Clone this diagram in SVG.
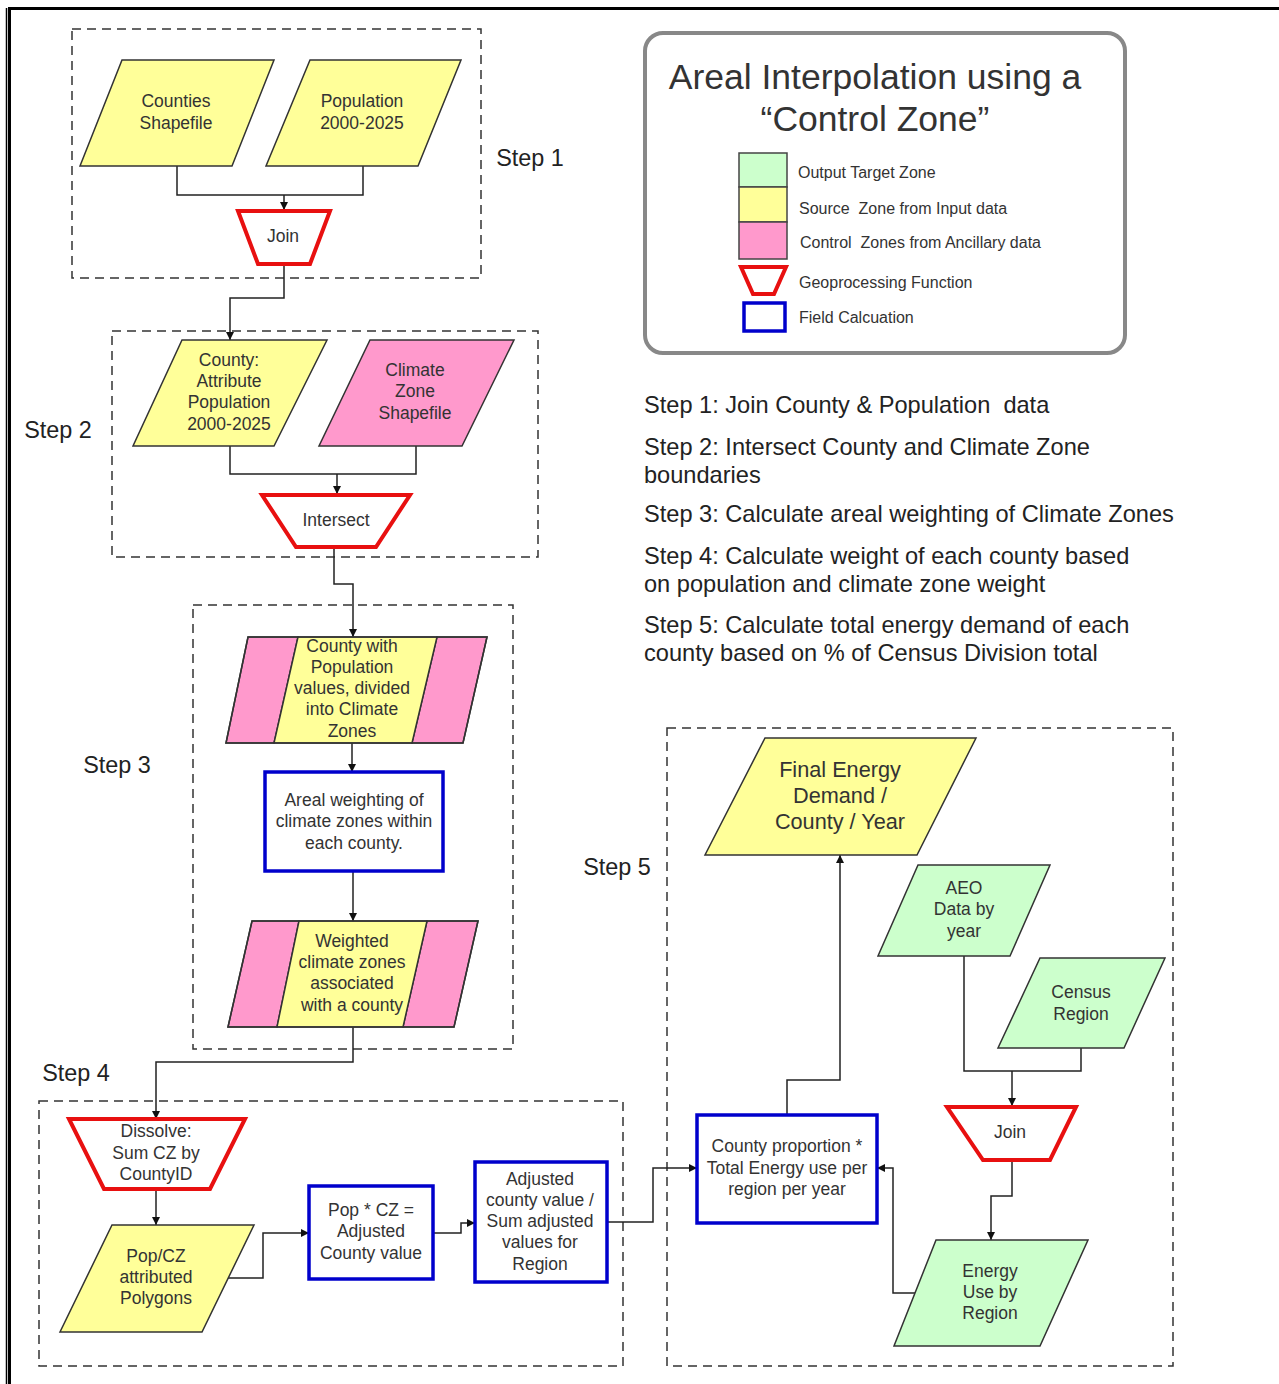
<svg xmlns="http://www.w3.org/2000/svg" width="1279" height="1384" viewBox="0 0 1279 1384">
<style>
text{font-family:"Liberation Sans",Arial,sans-serif;fill:#333;text-anchor:middle}
.n{font-size:17.5px}
.lab{font-size:23.6px;text-anchor:start;fill:#222}
.step{font-size:23.4px;fill:#222}
.dash{fill:none;stroke:#333;stroke-width:1.5;stroke-dasharray:9 6}
.y{fill:#FFFF99;stroke:#333;stroke-width:1.5}
.p{fill:#FF99CC;stroke:#333;stroke-width:1.5}
.g{fill:#CCFFCC;stroke:#333;stroke-width:1.5}
.geo{fill:#fff;stroke:#E81010;stroke-width:4;stroke-linejoin:miter}
.fc{fill:#fff;stroke:#0000CC;stroke-width:3.5}
.c{fill:none;stroke:#222;stroke-width:1.5}
.leg{font-size:16px;text-anchor:start;fill:#333}
</style>
<defs>
<marker id="ah" viewBox="0 0 10 10" refX="10" refY="5" markerWidth="8" markerHeight="8" markerUnits="userSpaceOnUse" orient="auto"><path d="M0,0 L10,5 L0,10 z" fill="#111"/></marker>
</defs>
<rect width="1279" height="1384" fill="#fff"/>
<g id="border">
<line x1="6.5" y1="8" x2="6.5" y2="1384" stroke="#000" stroke-width="1.5"/>
<line x1="9.5" y1="8" x2="9.5" y2="1384" stroke="#000" stroke-width="3"/>
<line x1="8" y1="8.5" x2="1279" y2="8.5" stroke="#000" stroke-width="3"/>
</g>
<g id="stepboxes">
<rect class="dash" x="72" y="29" width="409" height="249"/>
<rect class="dash" x="112" y="331" width="426" height="226"/>
<rect class="dash" x="193" y="605" width="320" height="444"/>
<rect class="dash" x="39" y="1101" width="584" height="265"/>
<rect class="dash" x="667" y="728" width="506" height="638"/>
<text class="step" x="530" y="166">Step 1</text>
<text class="step" x="58" y="438">Step 2</text>
<text class="step" x="117" y="773">Step 3</text>
<text class="step" x="76" y="1081">Step 4</text>
<text class="step" x="617" y="875">Step 5</text>
</g>
<g id="connectors">
<polyline class="c" points="177,166 177,195 363,195 363,166"/>
<polyline class="c" points="284,195 284,210" marker-end="url(#ah)"/>
<polyline class="c" points="284,264 284,298 230,298 230,340" marker-end="url(#ah)"/>
<polyline class="c" points="230,446 230,474 416,474 416,446"/>
<polyline class="c" points="337,474 337,494" marker-end="url(#ah)"/>
<polyline class="c" points="334,548 334,584 353,584 353,637" marker-end="url(#ah)"/>
<polyline class="c" points="352,743 352,772" marker-end="url(#ah)"/>
<polyline class="c" points="353,871 353,921" marker-end="url(#ah)"/>
<polyline class="c" points="353,1027 353,1062 156,1062 156,1119" marker-end="url(#ah)"/>
<polyline class="c" points="156,1189 156,1225" marker-end="url(#ah)"/>
<polyline class="c" points="228,1278 263,1278 263,1233 309,1233" marker-end="url(#ah)"/>
<polyline class="c" points="433,1233 461,1233 461,1223 475,1223" marker-end="url(#ah)"/>
<polyline class="c" points="607,1222 653,1222 653,1168 697,1168" marker-end="url(#ah)"/>
<polyline class="c" points="787,1115 787,1080 840,1080 840,855" marker-end="url(#ah)"/>
<polyline class="c" points="964,956 964,1071 1081,1071 1081,1048"/>
<polyline class="c" points="1012,1071 1012,1106" marker-end="url(#ah)"/>
<polyline class="c" points="1012,1160 1012,1196 991,1196 991,1240" marker-end="url(#ah)"/>
<polyline class="c" points="922,1293 893,1293 893,1168 877,1168" marker-end="url(#ah)"/>
</g>
<g id="counties">
<polygon class="y" points="122,60 274,60 232,166 80,166"/>
<text class="n" x="176" y="107">Counties</text>
<text class="n" x="176" y="129">Shapefile</text>
</g>
<g id="population">
<polygon class="y" points="310,60 461,60 418,166 266,166"/>
<text class="n" x="362" y="107">Population</text>
<text class="n" x="362" y="129">2000-2025</text>
</g>
<g id="join1">
<polygon class="geo" points="238,211 330,211 310,264 258,264"/>
<text class="n" x="283" y="242">Join</text>
</g>
<g id="countyattr">
<polygon class="y" points="182,340 327,340 274,446 133,446"/>
<text class="n" x="229" y="366">County:</text>
<text class="n" x="229" y="387">Attribute</text>
<text class="n" x="229" y="408">Population</text>
<text class="n" x="229" y="430">2000-2025</text>
</g>
<g id="climatezone">
<polygon class="p" points="370,340 514,340 462,446 319,446"/>
<text class="n" x="415" y="376">Climate</text>
<text class="n" x="415" y="397">Zone</text>
<text class="n" x="415" y="419">Shapefile</text>
</g>
<g id="intersect">
<polygon class="geo" points="262,495 410,495 376,547 296,547"/>
<text class="n" x="336" y="526">Intersect</text>
</g>
<g id="countywithpop">
<polygon class="p" points="248,637 298,637 274,743 226,743"/>
<polygon class="p" points="437,637 487,637 463,743 412,743"/>
<polygon class="y" points="298,637 437,637 412,743 274,743"/>
<polygon fill="none" stroke="#333" stroke-width="1.5" points="248,637 487,637 463,743 226,743"/>
<text class="n" x="352" y="652">County with</text>
<text class="n" x="352" y="673">Population</text>
<text class="n" x="352" y="694">values, divided</text>
<text class="n" x="352" y="715">into Climate</text>
<text class="n" x="352" y="737">Zones</text>
</g>
<g id="arealweighting">
<rect class="fc" x="265" y="772" width="178" height="99"/>
<text class="n" x="354" y="806">Areal weighting of</text>
<text class="n" x="354" y="827">climate zones within</text>
<text class="n" x="354" y="849">each county.</text>
</g>
<g id="weightedcz">
<polygon class="p" points="252,921 299,921 277,1027 228,1027"/>
<polygon class="p" points="427,921 478,921 454,1027 403,1027"/>
<polygon class="y" points="299,921 427,921 403,1027 277,1027"/>
<polygon fill="none" stroke="#333" stroke-width="1.5" points="252,921 478,921 454,1027 228,1027"/>
<text class="n" x="352" y="947">Weighted</text>
<text class="n" x="352" y="968">climate zones</text>
<text class="n" x="352" y="989">associated</text>
<text class="n" x="352" y="1011">with a county</text>
</g>
<g id="dissolve">
<polygon class="geo" points="69,1119 245,1119 210,1189 104,1189"/>
<text class="n" x="156" y="1137">Dissolve:</text>
<text class="n" x="156" y="1159">Sum CZ by</text>
<text class="n" x="156" y="1180">CountyID</text>
</g>
<g id="popcz">
<polygon class="y" points="112,1225 254,1225 202,1332 60,1332"/>
<text class="n" x="156" y="1262">Pop/CZ</text>
<text class="n" x="156" y="1283">attributed</text>
<text class="n" x="156" y="1304">Polygons</text>
</g>
<g id="popxcz">
<rect class="fc" x="309" y="1186" width="124" height="93"/>
<text class="n" x="371" y="1216">Pop * CZ =</text>
<text class="n" x="371" y="1237">Adjusted</text>
<text class="n" x="371" y="1259">County value</text>
</g>
<g id="adjusted">
<rect class="fc" x="475" y="1162" width="132" height="120"/>
<text class="n" x="540" y="1185">Adjusted</text>
<text class="n" x="540" y="1206">county value /</text>
<text class="n" x="540" y="1227">Sum adjusted</text>
<text class="n" x="540" y="1248">values for</text>
<text class="n" x="540" y="1270">Region</text>
</g>
<g id="finalenergy">
<polygon class="y" points="765,738 976,738 917,855 705,855"/>
<text x="840" y="777" font-size="21.7">Final Energy</text>
<text x="840" y="803" font-size="21.7">Demand /</text>
<text x="840" y="829" font-size="21.7">County / Year</text>
</g>
<g id="aeo">
<polygon class="g" points="918,865 1050,865 1010,956 878,956"/>
<text class="n" x="964" y="894">AEO</text>
<text class="n" x="964" y="915">Data by</text>
<text class="n" x="964" y="937">year</text>
</g>
<g id="census">
<polygon class="g" points="1040,958 1165,958 1124,1048 998,1048"/>
<text class="n" x="1081" y="998">Census</text>
<text class="n" x="1081" y="1020">Region</text>
</g>
<g id="join2">
<polygon class="geo" points="947,1107 1076,1107 1050,1160 983,1160"/>
<text class="n" x="1010" y="1138">Join</text>
</g>
<g id="energyuse">
<polygon class="g" points="936,1240 1088,1240 1040,1346 894,1346"/>
<text class="n" x="990" y="1277">Energy</text>
<text class="n" x="990" y="1298">Use by</text>
<text class="n" x="990" y="1319">Region</text>
</g>
<g id="countyproportion">
<rect class="fc" x="697" y="1115" width="180" height="108"/>
<text class="n" x="787" y="1152">County proportion *</text>
<text class="n" x="787" y="1174">Total Energy use per</text>
<text class="n" x="787" y="1195">region per year</text>
</g>
<g id="legend">
<rect x="645" y="33" width="480" height="320" rx="18" fill="#fff" stroke="#888" stroke-width="4"/>
<text x="875" y="89" font-size="35.5" fill="#111">Areal Interpolation using a</text>
<text x="875" y="131" font-size="35.5" fill="#111">“Control Zone”</text>
<rect x="739" y="153" width="48" height="34" fill="#CCFFCC" stroke="#444" stroke-width="1.5"/>
<rect x="739" y="187" width="48" height="35" fill="#FFFF99" stroke="#444" stroke-width="1.5"/>
<rect x="739" y="222" width="48" height="37" fill="#FF99CC" stroke="#444" stroke-width="1.5"/>
<polygon class="geo" points="741,267 786,267 774,294 753,294" stroke-width="3.5"/>
<rect class="fc" x="744" y="303" width="41" height="28"/>
<text class="leg" x="798" y="178">Output Target Zone</text>
<text class="leg" x="799" y="214" xml:space="preserve">Source  Zone from Input data</text>
<text class="leg" x="800" y="248" xml:space="preserve">Control  Zones from Ancillary data</text>
<text class="leg" x="799" y="288">Geoprocessing Function</text>
<text class="leg" x="799" y="323">Field Calcuation</text>
</g>
<g id="descriptions">
<text class="lab" x="644" y="413" xml:space="preserve">Step 1: Join County &amp; Population  data</text>
<text class="lab" x="644" y="455">Step 2: Intersect County and Climate Zone</text>
<text class="lab" x="644" y="483">boundaries</text>
<text class="lab" x="644" y="522">Step 3: Calculate areal weighting of Climate Zones</text>
<text class="lab" x="644" y="564">Step 4: Calculate weight of each county based</text>
<text class="lab" x="644" y="592">on population and climate zone weight</text>
<text class="lab" x="644" y="633">Step 5: Calculate total energy demand of each</text>
<text class="lab" x="644" y="661">county based on % of Census Division total</text>
</g>
</svg>
